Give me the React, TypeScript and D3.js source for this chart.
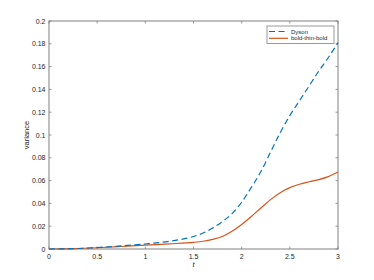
import React, { useRef, useEffect } from 'react';
import * as d3 from 'd3';

const times = [0, 0.25, 0.5, 0.75, 1, 1.25, 1.5, 1.6, 1.7, 1.8, 1.9, 2, 2.1, 2.2, 2.3, 2.4, 2.5, 2.6, 2.7, 2.8, 2.9, 3];
const dyson = [0, 0.0003, 0.0013, 0.0027, 0.0044, 0.0068, 0.011, 0.014, 0.0185, 0.024, 0.031, 0.041, 0.054, 0.068, 0.085, 0.102, 0.117, 0.13, 0.143, 0.156, 0.168, 0.181];
const boldThinBold = [0, 0.0003, 0.0011, 0.0022, 0.0034, 0.0045, 0.0058, 0.0068, 0.0085, 0.011, 0.0155, 0.0215, 0.0285, 0.036, 0.0433, 0.0494, 0.0538, 0.0568, 0.059, 0.0609, 0.0635, 0.0675];
const xTicks = [0, 0.5, 1, 1.5, 2, 2.5, 3];
const yTicks = [0, 0.02, 0.04, 0.06, 0.08, 0.1, 0.12, 0.14, 0.16, 0.18, 0.2];
const seriesNames = ['Dyson', 'bold-thin-bold'];

const App = () => {
  const svgRef = useRef<SVGSVGElement>(null);

  useEffect(() => {
    if (!svgRef.current) return;
    const svg = d3.select(svgRef.current);
    svg.selectAll('*').remove();

    const width = 374;
    const height = 280;
    const margin = { top: 21, right: 36, bottom: 31, left: 49 };
    const axisColor = '#808080';
    const font = 'Helvetica, Arial, "Liberation Sans", sans-serif';

    const x = d3.scaleLinear().domain([0, 3]).range([margin.left, width - margin.right]);
    const y = d3.scaleLinear().domain([0, 0.2]).range([height - margin.bottom, margin.top]);

    // box
    svg.append('rect')
      .attr('x', x(0)).attr('y', y(0.2))
      .attr('width', x(3) - x(0)).attr('height', y(0) - y(0.2))
      .attr('fill', 'white').attr('stroke', axisColor).attr('stroke-width', 1);

    const tickLen = 2.5;
    const g = svg.append('g').attr('stroke', axisColor).attr('stroke-width', 0.8);
    xTicks.forEach(t => {
      g.append('line').attr('x1', x(t)).attr('x2', x(t)).attr('y1', y(0)).attr('y2', y(0) - tickLen);
      g.append('line').attr('x1', x(t)).attr('x2', x(t)).attr('y1', y(0.2)).attr('y2', y(0.2) + tickLen);
    });
    yTicks.forEach(v => {
      g.append('line').attr('x1', x(0)).attr('x2', x(0) + tickLen).attr('y1', y(v)).attr('y2', y(v));
      g.append('line').attr('x1', x(3)).attr('x2', x(3) - tickLen).attr('y1', y(v)).attr('y2', y(v));
    });

    // tick labels
    svg.append('g').selectAll('text').data(xTicks).enter().append('text')
      .attr('x', d => x(d)).attr('y', y(0) + 10)
      .attr('text-anchor', 'middle')
      .style('font-family', font).style('font-size', '7px').attr('fill', '#262626')
      .text(d => String(d));
    svg.append('g').selectAll('text').data(yTicks).enter().append('text')
      .attr('x', x(0) - 3.5).attr('y', d => y(d) + 2.5)
      .attr('text-anchor', 'end')
      .style('font-family', font).style('font-size', '7px').attr('fill', '#262626')
      .text(d => String(d));

    // axis labels
    svg.append('text')
      .attr('x', (x(0) + x(3)) / 2).attr('y', y(0) + 18)
      .attr('text-anchor', 'middle')
      .style('font-family', font).style('font-size', '7.5px').style('font-style', 'italic').attr('fill', '#262626')
      .text('t');
    svg.append('text')
      .attr('transform', `translate(${x(0) - 20},${(y(0) + y(0.2)) / 2}) rotate(-90)`)
      .attr('text-anchor', 'middle')
      .style('font-family', font).style('font-size', '7.5px').attr('fill', '#262626')
      .text('variance');

    const line = d3.line<number>()
      .x((d, i) => x(times[i]))
      .y(d => y(d))
      .curve(d3.curveMonotoneX);

    svg.append('path').datum(boldThinBold)
      .attr('d', line).attr('fill', 'none')
      .attr('stroke', '#D95319').attr('stroke-width', 1.2);
    svg.append('path').datum(dyson)
      .attr('d', line).attr('fill', 'none')
      .attr('stroke', '#0072BD').attr('stroke-width', 1.2)
      .attr('stroke-dasharray', '6,3.5');

    // legend
    const lg = svg.append('g');
    const lx = 267, ly = 26;
    lg.append('rect').attr('x', lx).attr('y', ly).attr('width', 67).attr('height', 17.5)
      .attr('fill', 'white').attr('stroke', axisColor).attr('stroke-width', 0.8);
    seriesNames.forEach((name, i) => {
      const yy = ly + 5.5 + i * 6.8;
      lg.append('line').attr('x1', lx + 2).attr('x2', lx + 21).attr('y1', yy).attr('y2', yy)
        .attr('stroke', i === 0 ? '#0072BD' : '#D95319').attr('stroke-width', 1.2)
        .attr('stroke-dasharray', i === 0 ? '6,3.5' : null);
      lg.append('text').attr('x', lx + 24).attr('y', yy + 2)
        .style('font-family', font).style('font-size', '6px').attr('fill', '#262626')
        .text(name);
    });
  }, []);

  return (
    <svg ref={svgRef} width={374} height={280}
      style={{ position: 'absolute', left: 0, top: 0, background: 'white' }} />
  );
};

export default App;
